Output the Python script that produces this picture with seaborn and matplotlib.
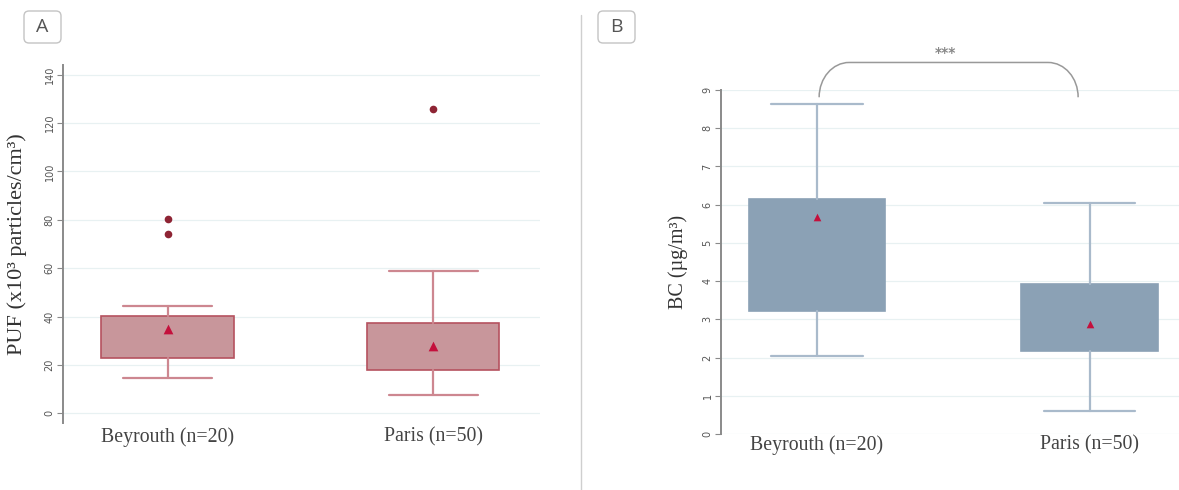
import matplotlib
matplotlib.use("Agg")
import matplotlib.pyplot as plt
import seaborn as sns
import pandas as pd
from matplotlib.patches import FancyBboxPatch, PathPatch
from matplotlib.path import Path
from matplotlib.lines import Line2D
from matplotlib.transforms import IdentityTransform

# ---------------- data ----------------
categories = ["Beyrouth (n=20)", "Paris (n=50)"]

puf_whislo = [14.5, 7.5]
puf_q1 = [22.8, 17.9]
puf_q3 = [40.2, 37.4]
puf_whishi = [44.4, 59.0]
puf_mean = [34.7, 28.0]
puf_outliers = [[80.4, 74.0], [125.8]]

bc_whislo = [2.03, 0.60]
bc_q1 = [3.21, 2.18]
bc_q3 = [6.15, 3.92]
bc_whishi = [8.63, 6.05]
bc_mean = [5.69, 2.88]

puf_ticks = [0, 20, 40, 60, 80, 100, 120, 140]
bc_ticks = [0, 1, 2, 3, 4, 5, 6, 7, 8, 9]

sig_label = "***"
puf_ylabel = "PUF (x10³ particles/cm³)"
bc_ylabel = "BC (µg/m³)"

# ---------------- style ----------------
sns.set_theme(style="white")
plt.rcParams["font.family"] = ["Liberation Serif", "DejaVu Serif"]

W, H = 1179, 490
fig = plt.figure(figsize=(W / 100, H / 100), dpi=100)
fig.patch.set_facecolor("white")


def px_axes(x0, x1, ytop, ybot):
    return fig.add_axes([x0 / W, 1 - ybot / H, (x1 - x0) / W, (ybot - ytop) / H])


axA = px_axes(63, 540, 65, 423)
axB = px_axes(721, 1179, 90, 434)

MEAN_COLOR = "#C4103C"


def draw_panel(ax, whislo, q1, q3, whishi, mean, outliers, fill, edge, whisk,
               ticks, ylim, xlim, ylabel, label_x, label_size, mean_size, xpad,
               flier_color=None):
    # markers through seaborn (categorical axis -> positions 0, 1)
    df_mean = pd.DataFrame({"cat": categories, "val": mean})
    sns.stripplot(data=df_mean, x="cat", y="val", order=categories, jitter=False,
                  marker="^", size=mean_size, color=MEAN_COLOR, linewidth=0,
                  ax=ax, zorder=10)
    if outliers is not None:
        rows = [(c, v) for c, vals in zip(categories, outliers) for v in vals]
        df_out = pd.DataFrame(rows, columns=["cat", "val"])
        sns.stripplot(data=df_out, x="cat", y="val", order=categories, jitter=False,
                      marker="o", size=5.5, color=flier_color, linewidth=0,
                      ax=ax, zorder=10)
    stats = []
    for i in range(len(categories)):
        stats.append(dict(whislo=whislo[i], q1=q1[i], med=q1[i], q3=q3[i],
                          whishi=whishi[i], fliers=[]))
    ax.bxp(stats, positions=list(range(len(categories))), widths=0.5,
           capwidths=0.335, patch_artist=True, showfliers=False,
           boxprops=dict(facecolor=fill, edgecolor=edge, linewidth=1.2),
           whiskerprops=dict(color=whisk, linewidth=1.6),
           capprops=dict(color=whisk, linewidth=1.6),
           medianprops=dict(linewidth=0), manage_ticks=False, zorder=3)

    ax.set_ylim(*ylim)
    ax.set_xlim(*xlim)
    ax.set_yticks(ticks)
    ax.set_yticklabels([str(t) for t in ticks], rotation=90, va="center",
                       family="DejaVu Sans")
    ax.set_xticks(range(len(categories)))
    ax.set_xticklabels(categories)
    ax.tick_params(axis="y", left=True, length=4, width=0.8, color="#8a8a8a",
                   labelsize=7, labelcolor="#555555", pad=2)
    ax.tick_params(axis="x", bottom=False, labelsize=14.3, labelcolor="#444444",
                   pad=xpad)
    for s in ["top", "right", "bottom"]:
        ax.spines[s].set_visible(False)
    ax.spines["left"].set_color("#8a8a8a")
    ax.spines["left"].set_linewidth(1.4)
    ax.grid(axis="y", color="#E8F1F2", linewidth=0.9)
    ax.set_axisbelow(True)
    ax.set_xlabel("")
    ax.set_ylabel(ylabel, fontsize=label_size, color="#333333")
    ax.yaxis.set_label_coords(label_x, 0.5)


draw_panel(axA, puf_whislo, puf_q1, puf_q3, puf_whishi, puf_mean, puf_outliers,
           fill="#C8969B", edge="#B5525F", whisk="#CD8790", ticks=puf_ticks,
           ylim=(-4, 144), xlim=(-0.395, 1.403), ylabel=puf_ylabel,
           label_x=-0.0755, label_size=16, mean_size=7, xpad=-3.0,
           flier_color="#8E2434")

draw_panel(axB, bc_whislo, bc_q1, bc_q3, bc_whishi, bc_mean, None,
           fill="#8BA1B5", edge="#8BA1B5", whisk="#A9BACB", ticks=bc_ticks,
           ylim=(0, 9), xlim=(-0.352, 1.328), ylabel=bc_ylabel,
           label_x=-0.0714, label_size=14.5, mean_size=5.5, xpad=-4.8)

# significance bracket (panel B)
x0, x1 = 0.008, 0.958
yb, yt = 8.81, 9.72
rx, ry = 0.11, 0.92
k = 0.55
verts = [(x0, yb),
         (x0, yb + ry * k), (x0 + rx * (1 - k), yt), (x0 + rx, yt),
         (x1 - rx, yt),
         (x1 - rx * (1 - k), yt), (x1, yb + ry * k), (x1, yb)]
codes = [Path.MOVETO, Path.CURVE4, Path.CURVE4, Path.CURVE4, Path.LINETO,
         Path.CURVE4, Path.CURVE4, Path.CURVE4]
axB.add_patch(PathPatch(Path(verts, codes), facecolor="none", edgecolor="#999999",
                        linewidth=1.1, clip_on=False))
axB.text((x0 + x1) / 2 - 0.01, yt + 0.06, sig_label, ha="center", va="bottom",
         fontsize=10, color="#888888", family="DejaVu Sans", fontweight="bold")

# panel letters
for (bx, letter) in [(24, "A"), (598, "B")]:
    fig.add_artist(FancyBboxPatch((bx, H - 43), 37, 32,
                                  boxstyle="round,pad=0,rounding_size=5",
                                  transform=IdentityTransform(),
                                  facecolor="white", edgecolor="#C4C4C4",
                                  linewidth=1))
    fig.text((bx + 18.5) / W, 1 - 27 / H, letter, ha="center", va="center",
             fontsize=14, color="#555555", family="Open Sans")

# divider
fig.add_artist(Line2D([581 / W, 581 / W], [0, 1 - 15 / H],
                      transform=fig.transFigure, color="#CFCFCF", linewidth=1))

fig.savefig("out.png", dpi=100, facecolor="white")
